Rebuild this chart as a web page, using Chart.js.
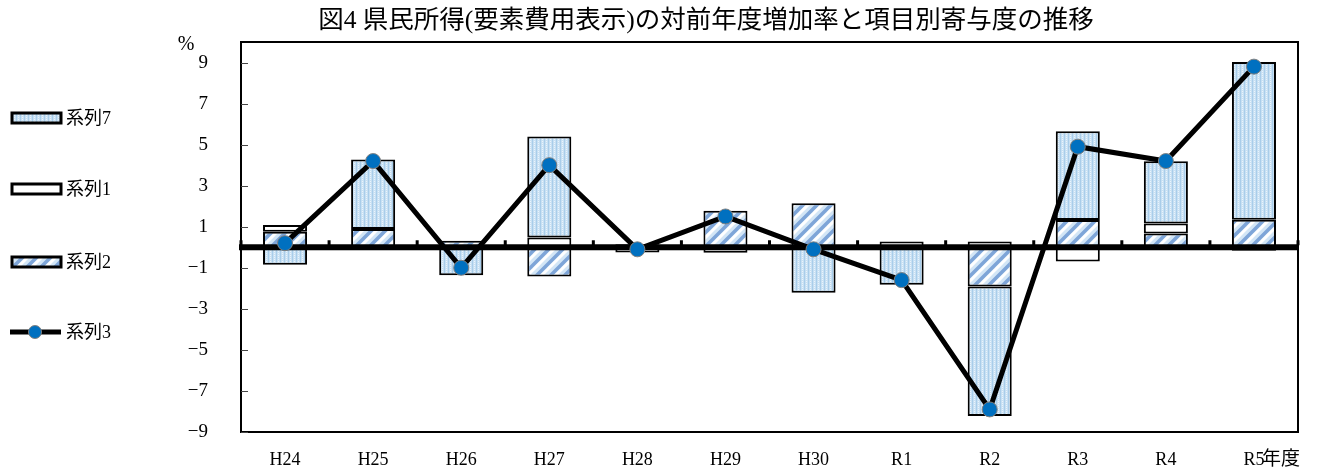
<!DOCTYPE html>
<html>
<head>
<meta charset="utf-8">
<script src="https://cdn.jsdelivr.net/npm/chart.js@4/dist/chart.umd.min.js"></script>
<style>
  html, body { margin: 0; padding: 0; background: #fff; }
  #wrap { position: relative; width: 1328px; height: 469px; }
</style>
</head>
<body>
<div id="wrap"><canvas id="c" width="1328" height="469"></canvas></div>
<script>
// 年度区分
const categories = ['H24', 'H25', 'H26', 'H27', 'H28', 'H29', 'H30', 'R1', 'R2', 'R3', 'R4', 'R5'];
// 項目別寄与度（％ポイント）
const series2 = [0.76, 0.89, 0.32, -1.42, 0.15, 1.78, 2.14, null, -1.91, 1.33, 0.67, 1.34];
const series1 = [0.32, null, null, 0.48, -0.25, -0.27, null, 0.28, 0.28, -0.69, 0.49, -0.17];
const series7 = [-0.85, 3.38, -1.36, 4.92, null, null, -2.22, -1.83, -6.31, 4.32, 3.03, 7.69];
// 県民所得の対前年度増加率（％）
const series3 = [0.2, 4.2, -1.0, 4.0, -0.1, 1.5, -0.1, -1.6, -7.9, 4.9, 4.2, 8.8];
// 目盛
const yTicks = [-9, -7, -5, -3, -1, 1, 3, 5, 7, 9];
const yMin = -9, yMax = 10;

const titleText = '図4 県民所得(要素費用表示)の対前年度増加率と項目別寄与度の推移';
const FONT = '"Liberation Serif", "Noto Sans CJK JP", serif';

// 塗りパターン
function makeDotPattern() {
  const c = document.createElement('canvas');
  c.width = 4; c.height = 4;
  const g = c.getContext('2d');
  g.fillStyle = '#c8e0f3';
  g.fillRect(0, 0, 4, 4);
  g.fillStyle = '#a9cdea';
  g.fillRect(0, 0, 1, 4);
  g.fillStyle = '#eaf4fc';
  g.fillRect(2, 1, 1, 1);
  g.fillRect(2, 3, 1, 1);
  return g.createPattern(c, 'repeat');
}
function makeHatchPattern() {
  const s = 14;
  const c = document.createElement('canvas');
  c.width = s; c.height = s;
  const g = c.getContext('2d');
  g.fillStyle = '#d3e6f6';
  g.fillRect(0, 0, s, s);
  g.lineCap = 'square';
  for (const k of [-s, 0, s]) {
    g.strokeStyle = '#7ea5d8';
    g.lineWidth = 3.5;
    g.beginPath(); g.moveTo(k, s); g.lineTo(k + s, 0); g.stroke();
    g.strokeStyle = '#ffffff';
    g.lineWidth = 3;
    g.beginPath(); g.moveTo(k + 5, s); g.lineTo(k + s + 5, 0); g.stroke();
  }
  return g.createPattern(c, 'repeat');
}
const dotFill = makeDotPattern();
const hatchFill = makeHatchPattern();

const legendItems = [
  { text: '系列7', kind: 'box', fill: dotFill },
  { text: '系列1', kind: 'box', fill: '#ffffff' },
  { text: '系列2', kind: 'box', fill: hatchFill },
  { text: '系列3', kind: 'line' }
];
const legendY = [118, 189, 262, 332];

// 0％線・枠・目盛・凡例・見出し
const decorations = {
  id: 'decorations',
  beforeDatasetDraw(chart, args) {
    if (args.meta.type !== 'line') return;
    const { ctx, chartArea } = chart;
    const x = chart.scales.x, y = chart.scales.y;
    const y0 = y.getPixelForValue(0);
    ctx.save();
    ctx.fillStyle = '#000';
    ctx.fillRect(chartArea.left - 2, y0 - 3, chartArea.right - chartArea.left + 2, 6);
    // 区切り目盛
    for (let i = 0; i <= categories.length; i++) {
      const px = i < categories.length
        ? x.getPixelForValue(i) - (x.getPixelForValue(1) - x.getPixelForValue(0)) / 2
        : chartArea.right;
      ctx.fillRect(px - 1.5, y0 - 7, 3, 5);
    }
    ctx.restore();
  },
  afterDraw(chart) {
    const { ctx, chartArea } = chart;
    const y = chart.scales.y;
    ctx.save();
    // 枠
    ctx.strokeStyle = '#000';
    ctx.lineWidth = 2;
    ctx.strokeRect(chartArea.left, chartArea.top, chartArea.right - chartArea.left, chartArea.bottom - chartArea.top);
    // 内向き目盛
    ctx.lineWidth = 1;
    ctx.strokeStyle = '#444';
    yTicks.forEach(v => {
      const py = Math.round(y.getPixelForValue(v)) + 0.5;
      ctx.beginPath(); ctx.moveTo(chartArea.left, py); ctx.lineTo(chartArea.left + 7, py); ctx.stroke();
    });
    // 見出し
    ctx.fillStyle = '#000';
    ctx.textBaseline = 'middle';
    ctx.textAlign = 'center';
    ctx.font = '25.5px ' + FONT;
    ctx.fillText(titleText, 706, 21);
    // 単位
    ctx.font = '20px ' + FONT;
    ctx.fillText('%', 186, 45);
    ctx.textAlign = 'left';
    ctx.font = '19px ' + FONT;
    ctx.fillText('年度', 1262, 460);
    // 凡例
    ctx.font = '18px ' + FONT;
    legendItems.forEach((it, i) => {
      const cy = legendY[i];
      if (it.kind === 'box') {
        ctx.fillStyle = it.fill;
        ctx.fillRect(12, cy - 5, 49, 10);
        ctx.strokeStyle = '#000';
        ctx.lineWidth = 3;
        ctx.strokeRect(12, cy - 5, 49, 10);
      } else {
        ctx.strokeStyle = '#000';
        ctx.lineWidth = 5;
        ctx.beginPath(); ctx.moveTo(10, cy); ctx.lineTo(61, cy); ctx.stroke();
        ctx.fillStyle = '#0070c0';
        ctx.strokeStyle = '#7f7f7f';
        ctx.lineWidth = 1;
        ctx.beginPath(); ctx.arc(35, cy, 6.5, 0, Math.PI * 2); ctx.fill(); ctx.stroke();
      }
      ctx.fillStyle = '#000';
      ctx.fillText(it.text, 66, cy + 1);
    });
    ctx.restore();
  }
};

const barCommon = {
  type: 'bar',
  borderColor: '#000',
  borderWidth: 2,
  borderSkipped: false,
  barPercentage: 1,
  categoryPercentage: 0.5,
  stack: 'parts',
  order: 1
};

new Chart(document.getElementById('c'), {
  data: {
    labels: categories,
    datasets: [
      Object.assign({}, barCommon, { label: '系列2', data: series2, backgroundColor: hatchFill }),
      Object.assign({}, barCommon, { label: '系列1', data: series1, backgroundColor: '#ffffff' }),
      Object.assign({}, barCommon, { label: '系列7', data: series7, backgroundColor: dotFill }),
      {
        type: 'line',
        label: '系列3',
        data: series3,
        stack: 'total',
        order: 0,
        borderColor: '#000',
        borderWidth: 5,
        pointRadius: 7.5,
        pointHoverRadius: 7.5,
        pointBackgroundColor: '#0070c0',
        pointBorderColor: '#7f7f7f',
        pointBorderWidth: 1,
        tension: 0
      }
    ]
  },
  options: {
    responsive: false,
    animation: false,
    events: [],
    layout: { padding: { left: 181, top: 42, right: 30, bottom: 0 } },
    plugins: { legend: { display: false }, title: { display: false }, tooltip: { enabled: false } },
    scales: {
      x: {
        type: 'category',
        stacked: true,
        offset: true,
        grid: { display: false },
        border: { display: false },
        ticks: { color: '#000', font: { family: FONT, size: 18 }, padding: 9, maxRotation: 0 },
        afterFit(s) { s.height = 37; }
      },
      y: {
        stacked: true,
        min: yMin,
        max: yMax,
        grid: { display: false },
        border: { display: false },
        afterBuildTicks(s) { s.ticks = yTicks.map(v => ({ value: v })); },
        ticks: {
          color: '#000',
          font: { family: FONT, size: 19 },
          padding: 25,
          callback: v => (v < 0 ? '\u2212' + Math.abs(v) : String(v))
        },
        afterFit(s) { s.width = 60; }
      }
    }
  },
  plugins: [decorations]
});
</script>
</body>
</html>
